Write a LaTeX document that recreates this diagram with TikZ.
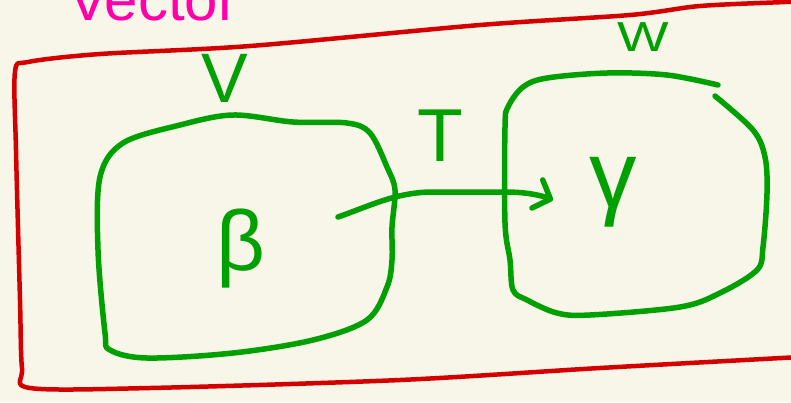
\documentclass[tikz,border=0pt]{standalone}
\usepackage{fontspec}
\setmainfont{Liberation Sans}
\usetikzlibrary{arrows.meta}
\definecolor{paper}{RGB}{248,245,233}
\definecolor{inkred}{RGB}{212,0,0}
\definecolor{inkgreen}{RGB}{0,160,0}
\definecolor{inkpink}{RGB}{255,0,170}
\begin{document}
\begin{tikzpicture}[x=1pt,y=-1pt,line cap=round,line join=round,
  redink/.style={draw=inkred,line width=4.5pt},
  greenink/.style={draw=inkgreen,line width=5.5pt},
  glabel/.style={text=inkgreen,inner sep=0pt,font=\fontsize{#1}{#1}\selectfont}]
\fill[paper] (0,0) rectangle (791,402);
\useasboundingbox (0,0) rectangle (791,402);
% title (cut off at the top, as in the reference)
\node[anchor=base west,text=inkpink,inner sep=0pt,font=\fontsize{60}{60}\selectfont] (title) at (68,20) {Vector};
% red frame
\draw[redink] plot[smooth,tension=0.5] coordinates {(800,1) (785,2) (700,6) (630,15) (480,25) (250,46) (100,54) (28,62) (15,72) (16,150) (20,300) (22,368) (30,388) (150,388) (400,380) (600,368) (800,357)};
% left space V
\draw[greenink] plot[smooth cycle,tension=0.55] coordinates {(123,143) (180,125) (233,115) (293,122) (347,123) (370,133) (387,167) (395,190) (392,227) (392,260) (387,287) (367,320) (313,340) (233,353) (147,358) (110,350) (105,333) (98,250) (100,177)};
% right space W
\draw[greenink] plot[smooth,tension=0.55] coordinates {(715,96) (753,130) (765,157) (767,193) (763,247) (757,270) (720,293) (680,307) (590,315) (557,313) (527,300) (513,290) (510,260) (505,223) (505,127) (508,107) (523,87) (547,78) (607,73) (667,75) (718,85)};
% labels
\node[glabel=70] (vlab) at (225,78) {V};
\node[glabel=42,xscale=1.3,transform shape] (wlab) at (643,37) {W};
\node[glabel=75] (tlab) at (440,136) {T};
\node[glabel=85] (beta) at (241,249) {β};
\node[glabel=95] (gamma) at (613,192) {γ};
% arrow T : V -> W
\coordinate (arrS) at (338,217);
\coordinate (arrE) at (553,200);
\draw[greenink,-{Straight Barb[round,length=14pt,width=30pt]}] (arrS) .. controls (372,205) and (395,193) .. (430,192) -- (505,192) .. controls (525,192) and (540,195) .. (arrE);
\end{tikzpicture}
\end{document}
